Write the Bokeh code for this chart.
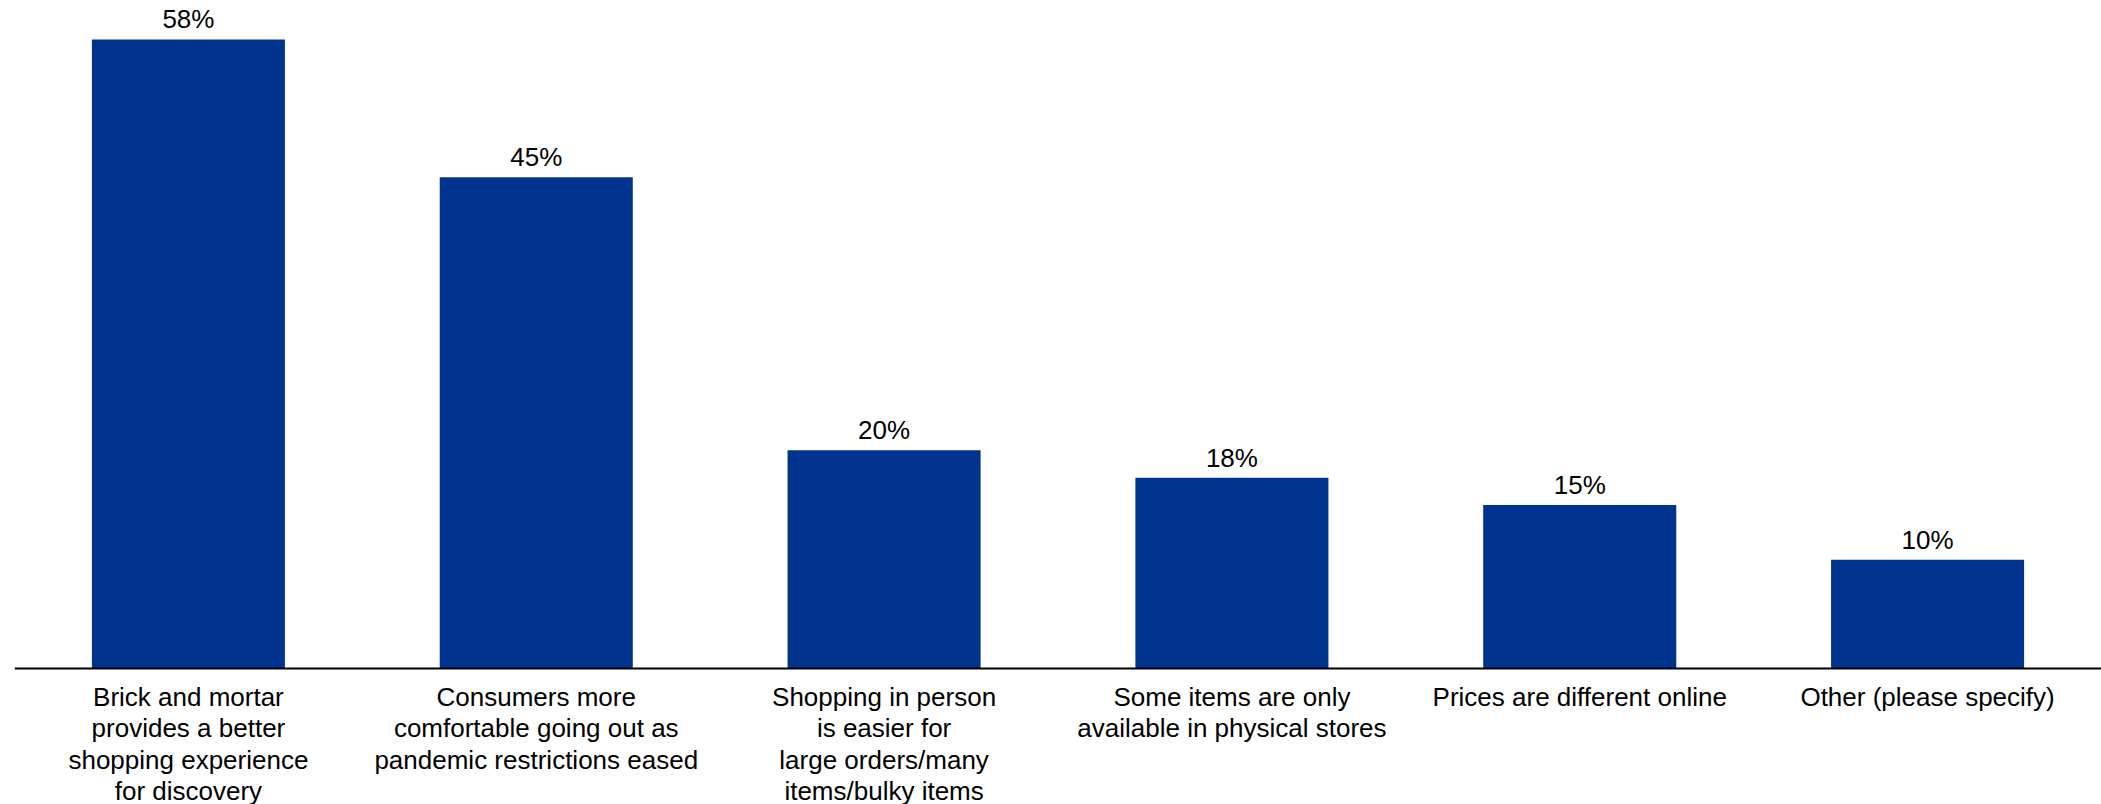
from bokeh.plotting import figure
from bokeh.models import ColumnDataSource, LabelSet, Range1d
from bokeh.core.properties import value
from bokeh.embed import file_html
from bokeh.resources import INLINE

categories = [
    "Brick and mortar\nprovides a better\nshopping experience\nfor discovery",
    "Consumers more\ncomfortable going out as\npandemic restrictions eased",
    "Shopping in person\nis easier for\nlarge orders/many\nitems/bulky items",
    "Some items are only\navailable in physical stores",
    "Prices are different online",
    "Other (please specify)",
]
values = [57.6, 45, 20, 17.5, 15, 10]
value_labels = ["58%", "45%", "20%", "18%", "15%", "10%"]

BAR_COLOR = "#00338D"
FONT = "Liberation Sans"

src = ColumnDataSource(dict(cat=categories, val=values, lab=value_labels))

p = figure(
    width=2101, height=804,
    x_range=categories,
    y_range=Range1d(-12.40, 61.16),
    output_backend="svg", toolbar_location=None,
    y_axis_location=None,
    min_border_left=14, min_border_right=0, min_border_top=0, min_border_bottom=0,
)
p.outline_line_color = None
p.xgrid.visible = False
p.ygrid.visible = False
p.background_fill_color = "white"
p.border_fill_color = "white"

p.vbar(x="cat", top="val", bottom=0, width=0.555, source=src,
       fill_color=BAR_COLOR, line_color=None)

labels = LabelSet(x="cat", y="val", text="lab", source=src,
                  text_align="center", text_baseline="alphabetic",
                  y_offset=11, text_font=value(FONT), text_font_size=value("26px"),
                  text_color="black")
p.add_layout(labels)

ax = p.xaxis[0]
ax.fixed_location = 0
ax.axis_line_color = "black"
ax.axis_line_width = 2
ax.major_tick_line_color = None
ax.minor_tick_line_color = None
ax.major_label_text_font = FONT
ax.major_label_text_font_size = "26px"
ax.major_label_text_color = "black"
ax.major_label_text_line_height = 1.05
ax.major_label_standoff = 7
ax.major_label_orientation = "horizontal"

open("out.html", "w").write(file_html(p, INLINE))
